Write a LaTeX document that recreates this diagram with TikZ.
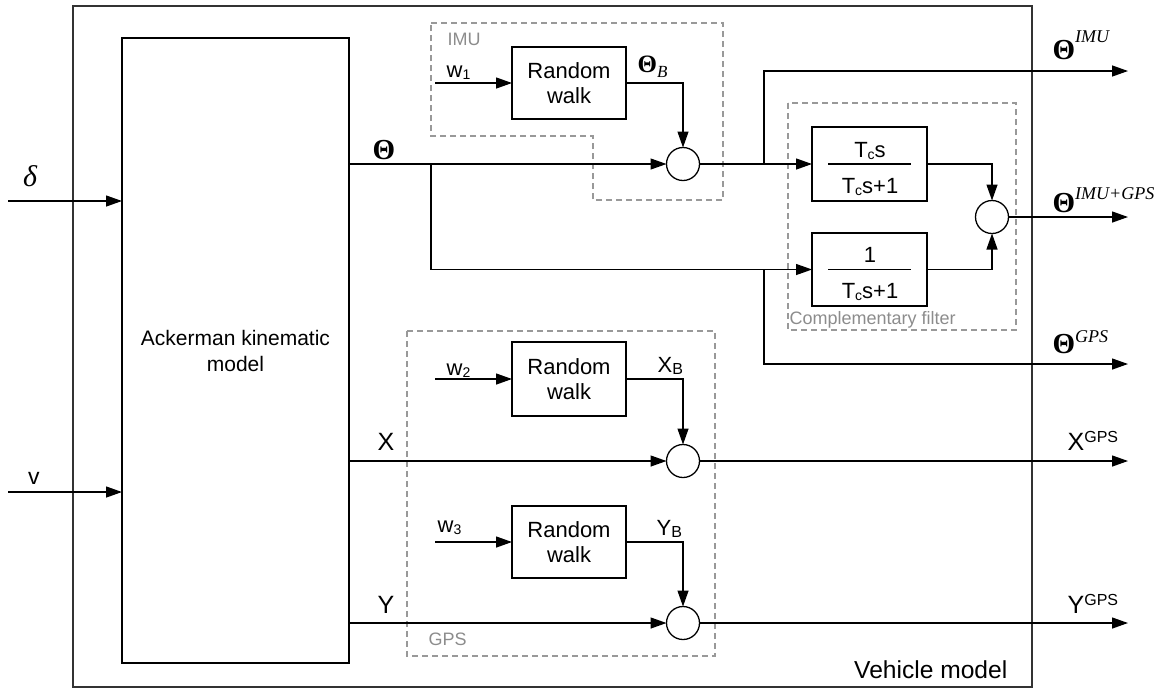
\documentclass[tikz,border=0pt]{standalone}
\usepackage{fontspec}
\setmainfont{Liberation Sans}
\newfontfamily\tnr{Liberation Serif}
\usetikzlibrary{arrows.meta}
\newcommand\mysb[2][-1pt]{\raisebox{#1}{\fontsize{7}{7}\selectfont #2}}
\newcommand\bigth{{\tnr\bfseries\fontsize{14.5}{16}\selectfont Θ}}
\begin{document}
\begin{tikzpicture}[x=0.5pt,y=-0.5pt,
  line width=0.65pt,
  arr/.style={-{Triangle[length=8pt,width=5.5pt]}},
  blk/.style={draw, inner sep=0pt, outer sep=0pt, align=center},
  sumc/.style={draw, circle, minimum size=16.5pt, inner sep=0pt, outer sep=0pt},
  grp/.style={draw=black!40, dash pattern=on 3pt off 2pt, line width=0.55pt},
  grplbl/.style={text=black!45, font=\fontsize{9}{10}\selectfont, inner sep=0pt},
  lbl/.style={inner sep=0pt},
  ]
\useasboundingbox (0,0) rectangle (1166,692);

% groups (dashed)
\draw[grp] (431,23) -- (723,23) -- (723,200) -- (593,200) -- (593,136) -- (431,136) -- cycle;
\draw[grp] (788,103) rectangle (1016,330);
\draw[grp] (407,331) rectangle (715,656);

% outer box
\node[draw=black!80, line width=0.8pt, minimum width=479.5pt, minimum height=340.5pt, inner sep=0pt, outer sep=0pt] (vm) at (552.5,346.5) {};

% blocks
\node[blk, minimum width=113.5pt, minimum height=312.5pt, font=\fontsize{10.5}{13}\selectfont] (ack) at (235.5,350.5) {Ackerman kinematic\\model};
\node[blk, minimum width=57pt, minimum height=36pt, font=\fontsize{11}{12.5}\selectfont] (rw1) at (569,83) {Random\\walk};
\node[blk, minimum width=57pt, minimum height=37pt, font=\fontsize{11}{12.5}\selectfont] (rw2) at (569,379) {Random\\walk};
\node[blk, minimum width=57pt, minimum height=36pt, font=\fontsize{11}{12.5}\selectfont] (rw3) at (569,542) {Random\\walk};
\node[blk, minimum width=57.5pt, minimum height=37pt] (ftop) at (869.5,164) {};
\node[blk, minimum width=57.5pt, minimum height=36.5pt] (fbot) at (869.5,269.5) {};

% fraction contents
\node[lbl, anchor=base, font=\fontsize{11}{12}\selectfont] (ftopn) at (870,157) {T\mysb{c}s};
\node[lbl, anchor=base, font=\fontsize{11}{12}\selectfont] (ftopd) at (870,193) {T\mysb{c}s+1};
\node[lbl, anchor=base, font=\fontsize{11}{12}\selectfont] (fbotn) at (870,262) {1};
\node[lbl, anchor=base, font=\fontsize{11}{12}\selectfont] (fbotd) at (870,298) {T\mysb{c}s+1};
\draw ([xshift=-20.75pt]ftop.center) -- ([xshift=20.75pt]ftop.center);
\draw ([xshift=-20.75pt]fbot.center) -- ([xshift=20.75pt]fbot.center);

% summing junctions
\node[sumc] (cimu) at (683,164) {};
\node[sumc] (ccf) at (992,217) {};
\node[sumc] (cx) at (683,461) {};
\node[sumc] (cy) at (683,623) {};

% free ends and branch points
\coordinate (din) at (8,201);
\coordinate (vin) at (8,492);
\coordinate (w1) at (435,83);
\coordinate (w2) at (435,379);
\coordinate (w3) at (435,542);
\coordinate (br1) at (431,164);
\coordinate (br2) at (764,164);
\coordinate (br3) at (br2 |- fbot.west);
\coordinate (oimu) at (1128,71);
\coordinate (ofus) at (1128,217);
\coordinate (ogps) at (1128,364);
\coordinate (ox) at (1128,461);
\coordinate (oy) at (1128,623);

% connectors
\draw[arr] (din) -- (din -| ack.west);
\draw[arr] (vin) -- (vin -| ack.west);
\draw[arr] (ack.east |- cimu) -- (cimu);
\draw[arr] (br1) |- (fbot.west);
\draw[arr] (w1) -- (rw1.west);
\draw[arr] (rw1.east) -| (cimu.north);
\draw[arr] (cimu.east) -- (ftop.west);
\draw[arr] (br2) |- (oimu);
\draw[arr] (br3) |- (ogps);
\draw[arr] (ftop.east) -| (ccf.north);
\draw[arr] (fbot.east) -| (ccf.south);
\draw[arr] (ccf.east) -- (ofus);
\draw[arr] (w2) -- (rw2.west);
\draw[arr] (rw2.east) -| (cx.north);
\draw[arr] (ack.east |- cx) -- (cx);
\draw[arr] (cx.east) -- (ox);
\draw[arr] (w3) -- (rw3.west);
\draw[arr] (rw3.east) -| (cy.north);
\draw[arr] (ack.east |- cy) -- (cy);
\draw[arr] (cy.east) -- (oy);

% group labels
\node[grplbl, anchor=west] (limu) at (447,39) {IMU};
\node[grplbl, anchor=west] (lgps) at (428,639) {GPS};
\node[grplbl, anchor=west] (lcf) at (789,320) {Complementary filter};

% signal labels
\node[lbl] (ldelta) at (30,176) {\tnr\itshape\fontsize{15}{16}\selectfont δ};
\node[lbl] (lv) at (34,478) {\fontsize{11.5}{12}\selectfont v};
\node[lbl, anchor=base] (lth) at (384,159) {\bigth};
\node[lbl, anchor=base] (lx) at (386,450) {\fontsize{12.5}{14}\selectfont X};
\node[lbl, anchor=base] (ly) at (386,613) {\fontsize{12.5}{14}\selectfont Y};
\node[lbl, anchor=base west] (lw1) at (446,77) {\fontsize{11}{12}\selectfont w\mysb{1}};
\node[lbl, anchor=base west] (lw2) at (446,375) {\fontsize{11}{12}\selectfont w\mysb{2}};
\node[lbl, anchor=base west] (lw3) at (437,532) {\fontsize{11}{12}\selectfont w\mysb{3}};
\node[lbl, anchor=base west] (lthb) at (637,72) {{\tnr\bfseries\fontsize{12.5}{14}\selectfont Θ}{\tnr\raisebox{-2.5pt}{\fontsize{8.5}{9}\selectfont\itshape B}}};
\node[lbl, anchor=base west] (lxb) at (657,372) {\fontsize{11}{12}\selectfont X\raisebox{-1pt}{\fontsize{8}{8}\selectfont B}};
\node[lbl, anchor=base west] (lyb) at (656,535) {\fontsize{11}{12}\selectfont Y\raisebox{-1pt}{\fontsize{8}{8}\selectfont B}};
\node[lbl, anchor=base west] (lti) at (1052,59) {\bigth{\tnr\raisebox{8.5pt}{\fontsize{9}{10}\selectfont\itshape IMU}}};
\node[lbl, anchor=base west] (ltf) at (1052,212) {\bigth{\tnr\raisebox{6.5pt}{\fontsize{9}{10}\selectfont\itshape IMU+GPS}}};
\node[lbl, anchor=base west] (ltg) at (1052,353) {\bigth{\tnr\raisebox{5.5pt}{\fontsize{9}{10}\selectfont\itshape GPS}}};
\node[lbl, anchor=base west] (lxg) at (1067,450) {\fontsize{12.5}{14}\selectfont X\raisebox{4pt}{\fontsize{8}{9}\selectfont GPS}};
\node[lbl, anchor=base west] (lyg) at (1067,613) {\fontsize{12.5}{14}\selectfont Y\raisebox{4pt}{\fontsize{8}{9}\selectfont GPS}};
\node[lbl, anchor=base east] (lvm) at (1008,678) {\fontsize{12.3}{14}\selectfont Vehicle model};
\end{tikzpicture}
\end{document}
